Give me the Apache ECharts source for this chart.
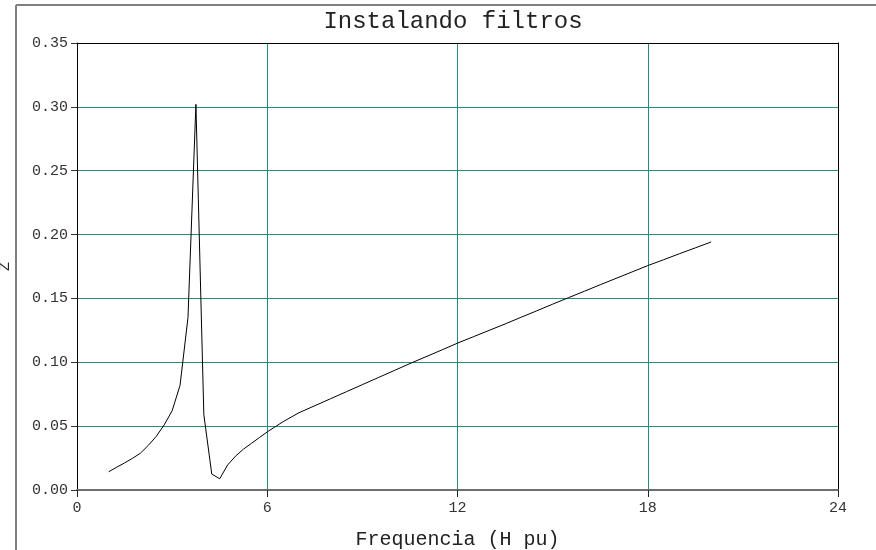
<!DOCTYPE html>
<html>
<head>
<meta charset="utf-8">
<style>
  html, body { margin: 0; padding: 0; background: #fff; }
  #chart { width: 876px; height: 550px; }
</style>
<script src="https://cdn.jsdelivr.net/npm/echarts@6/dist/echarts.min.js"></script>
</head>
<body>
<div id="chart"></div>
<script>
// Harmonic order (per unit) and impedance magnitude Z
const harmonicOrder = [
  1.0, 1.25, 1.5, 1.75, 2.0, 2.25, 2.5, 2.75, 3.0, 3.25, 3.5, 3.75,
  4.0, 4.25, 4.5, 4.75, 5.0, 5.25, 5.5, 5.75, 6.0, 6.25, 6.5, 6.75, 7.0,
  7.5, 8.0, 8.5, 9.0, 9.5, 10.0, 10.5, 11.0, 11.5, 12.0, 12.5, 13.0, 13.5,
  14.0, 14.5, 15.0, 15.5, 16.0, 16.5, 17.0, 17.5, 18.0, 18.5, 19.0, 19.5, 20.0
];
const impedance = [
  0.0143, 0.0178, 0.0212, 0.0248, 0.0288, 0.035, 0.042, 0.051, 0.062, 0.082, 0.135, 0.302,
  0.059, 0.0125, 0.0088, 0.0196, 0.0265, 0.032, 0.0365, 0.041, 0.0455, 0.0495, 0.0535, 0.057, 0.0605,
  0.066, 0.0715, 0.077, 0.0825, 0.088, 0.0935, 0.099, 0.1043, 0.1096, 0.115, 0.120, 0.125, 0.130,
  0.1352, 0.1403, 0.1455, 0.1506, 0.1556, 0.1607, 0.1657, 0.1707, 0.1757, 0.1803, 0.185, 0.1896, 0.1942
];
const xTicks = [0, 6, 12, 18, 24];
const yTicks = [0, 0.05, 0.10, 0.15, 0.20, 0.25, 0.30, 0.35];

const titleText = 'Instalando filtros';
const xName = 'Frequencia (H pu)';
const yName = 'Z';

const mono = 'Liberation Mono';
const gridColor = '#238a84';

const xMin = xTicks[0], xMax = xTicks[xTicks.length - 1];
const yMin = yTicks[0], yMax = yTicks[yTicks.length - 1];

const chart = echarts.init(document.getElementById('chart'), null, { renderer: 'canvas' });

chart.setOption({
  backgroundColor: '#ffffff',
  animation: false,
  title: {
    text: titleText,
    left: 448,
    textAlign: 'center',
    top: 5,
    textStyle: { fontFamily: mono, fontSize: 24, fontWeight: 'normal', color: '#222' }
  },
  graphic: [
    // outer frame (left and top edges)
    { type: 'line', shape: { x1: 16, y1: 5, x2: 876, y2: 5 }, style: { stroke: '#808080', lineWidth: 2 } },
    { type: 'line', shape: { x1: 16, y1: 5, x2: 16, y2: 550 }, style: { stroke: '#808080', lineWidth: 2 } }
  ],
  grid: {
    left: 77, right: 38, top: 43, bottom: 60,
    containLabel: false,
    outerBoundsMode: 'none',
    show: false
  },
  xAxis: [{
    type: 'value',
    min: xMin, max: xMax, interval: 6,
    name: xName,
    nameLocation: 'middle',
    nameGap: 40,
    nameTextStyle: { fontFamily: mono, fontSize: 20, color: '#222' },
    axisLine: { show: true, lineStyle: { color: '#6e6e6e', width: 2 } },
    axisTick: { show: true, length: 7, lineStyle: { color: '#222' } },
    axisLabel: {
      fontFamily: mono, fontSize: 15, color: '#333', margin: 11,
      formatter: v => String(v)
    },
    splitLine: { show: true, lineStyle: { color: gridColor, width: 1 } }
  }, {
    // top frame edge
    type: 'value', position: 'top',
    min: xMin, max: xMax, interval: 6,
    axisLine: { show: true, onZero: false, lineStyle: { color: '#000', width: 1 } },
    axisTick: { show: false }, axisLabel: { show: false }, splitLine: { show: false }
  }],
  yAxis: [{
    type: 'value',
    min: yMin, max: yMax, interval: 0.05,
    name: yName,
    nameLocation: 'middle',
    nameGap: 64,
    nameTextStyle: { fontFamily: mono, fontSize: 15, color: '#222' },
    axisLine: { show: true, lineStyle: { color: '#000', width: 1 } },
    axisTick: { show: true, length: 6, lineStyle: { color: '#333' } },
    axisLabel: {
      fontFamily: mono, fontSize: 15, color: '#333', margin: 9,
      formatter: v => v.toFixed(2)
    },
    splitLine: { show: true, lineStyle: { color: gridColor, width: 1 } }
  }, {
    // right frame edge
    type: 'value', position: 'right',
    min: yMin, max: yMax, interval: 0.05,
    axisLine: { show: true, onZero: false, lineStyle: { color: '#000', width: 1 } },
    axisTick: { show: false }, axisLabel: { show: false }, splitLine: { show: false }
  }],
  series: [{
    type: 'line',
    data: harmonicOrder.map((h, i) => [h, impedance[i]]),
    showSymbol: false,
    smooth: false,
    lineStyle: { color: '#000', width: 1 },
    z: 5
  }]
});
</script>
</body>
</html>
